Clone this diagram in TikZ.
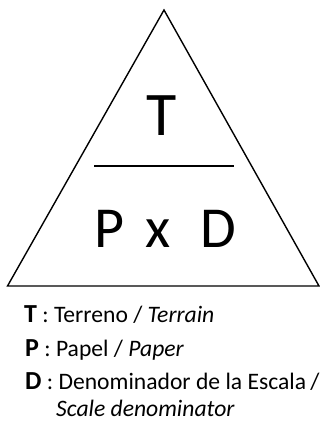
\documentclass[tikz,border=0pt]{standalone}
\usepackage{fontspec}
\setmainfont{Carlito}
\newcommand\keyletter[1]{{\fontsize{26}{26}\selectfont\bfseries #1}}
\begin{document}
\begin{tikzpicture}[x=1pt,y=-1pt,
  bigletter/.style={inner sep=0pt,anchor=base,font=\fontsize{62}{62}\selectfont},
  lowletter/.style={inner sep=0pt,anchor=base,font=\fontsize{58}{58}\selectfont},
  legend/.style={inner sep=0pt,anchor=base west,font=\fontsize{23.6}{26}\selectfont}]
\useasboundingbox (0,0) rectangle (320,421);
% triangle
\coordinate (apex) at (164,10);
\coordinate (bl) at (7.5,286);
\coordinate (br) at (319,286);
\draw[line width=1.4pt,line join=miter] (apex) -- (bl) -- (br) -- cycle;
% numerator / denominator
\node[bigletter] (t) at (161.5,135) {T};
\coordinate (barl) at (94,166);
\coordinate (barr) at (234,166);
\draw[line width=1.4pt] (barl) -- (barr);
\node[lowletter] (p) at (109,247) {P};
\node[lowletter] (x) at (158,247) {x};
\node[lowletter] (d) at (218,247) {D};
% legend
\node[legend] (lt) at (24,322) {\keyletter{T} : Terreno / \textit{Terrain}};
\node[legend] (lp) at (25,356) {\keyletter{P} : Papel / \textit{Paper}};
\node[legend] (ld) at (25,389) {\keyletter{D} : Denominador de la Escala\kern-1pt\ /};
\node[legend] (ls) at (56,416) {\textit{Scale denominator}};
\end{tikzpicture}
\end{document}
